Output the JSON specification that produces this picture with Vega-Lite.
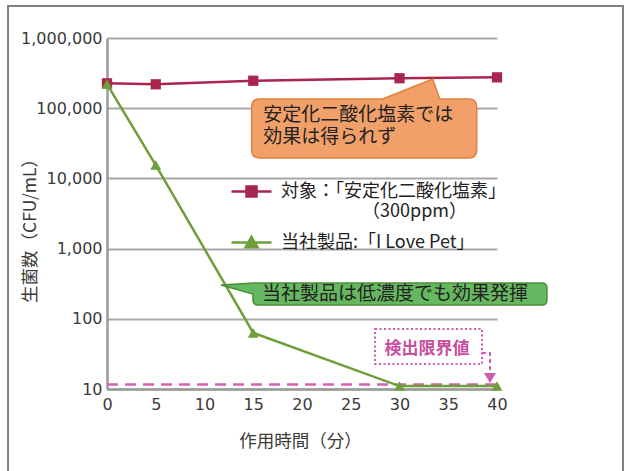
{
  "$schema": "https://vega.github.io/schema/vega-lite/v6.json",
  "width": 390,
  "height": 351,
  "autosize": {"type": "none"},
  "padding": {"left": 107, "top": 38, "right": 133, "bottom": 82},
  "background": "white",
  "config": {
    "view": {"stroke": null},
    "font": "Noto Sans CJK JP",
    "axis": {
      "labelFont": "DejaVu Sans",
      "labelFontSize": 16,
      "labelColor": "#3a3a3a",
      "labelFlush": false,
      "titleFont": "Noto Sans CJK JP",
      "titleFontSize": 17.5,
      "titleFontWeight": "normal",
      "titleColor": "#3a3a3a",
      "ticks": false,
      "domainColor": "#9a9a9a",
      "domainWidth": 2.5,
      "gridColor": "#a8a8a8",
      "gridWidth": 2
    }
  },
  "datasets": {
    "counts": [
      {"series": "対象：「安定化二酸化塩素」（300ppm）", "time": 0, "cfu": 226000},
      {"series": "対象：「安定化二酸化塩素」（300ppm）", "time": 5, "cfu": 219000},
      {"series": "対象：「安定化二酸化塩素」（300ppm）", "time": 15, "cfu": 246000},
      {"series": "対象：「安定化二酸化塩素」（300ppm）", "time": 30, "cfu": 267000},
      {"series": "対象：「安定化二酸化塩素」（300ppm）", "time": 40, "cfu": 275000},
      {"series": "当社製品:「I Love Pet」", "time": 0, "cfu": 221000},
      {"series": "当社製品:「I Love Pet」", "time": 5, "cfu": 15500},
      {"series": "当社製品:「I Love Pet」", "time": 15, "cfu": 63},
      {"series": "当社製品:「I Love Pet」", "time": 30, "cfu": 11},
      {"series": "当社製品:「I Love Pet」", "time": 40, "cfu": 11}
    ]
  },
  "layer": [
    {
      "data": {"values": [{}]},
      "mark": {"type": "rect", "filled": false, "stroke": "#808080", "strokeWidth": 2, "clip": false},
      "encoding": {
        "x": {"datum": -10.15, "type": "quantitative", "scale": {"domain": [0, 40], "nice": false}},
        "x2": {"datum": 52.92},
        "y": {"datum": 2856000, "type": "quantitative", "scale": {"type": "log", "domain": [10, 1000000], "nice": false}},
        "y2": {"datum": 0.5}
      }
    },
    {
      "data": {"values": [{}]},
      "mark": {"type": "rule", "stroke": "#D660B4", "strokeWidth": 2.5, "strokeDash": [11, 7], "clip": false},
      "encoding": {
        "x": {"datum": 0, "type": "quantitative", "scale": {"domain": [0, 40], "nice": false}},
        "x2": {"datum": 40.3},
        "y": {"datum": 11.6, "type": "quantitative", "scale": {"type": "log", "domain": [10, 1000000], "nice": false}}
      }
    },
    {
      "data": {"name": "counts"},
      "mark": {"type": "line", "strokeWidth": 2.5},
      "encoding": {
        "x": {
          "field": "time", "type": "quantitative",
          "scale": {"domain": [0, 40], "nice": false},
          "axis": {"values": [0, 5, 10, 15, 20, 25, 30, 35, 40], "grid": false, "labelPadding": 7, "title": "作用時間（分）", "titleX": 193, "titleY": 52, "titleBaseline": "middle"}
        },
        "y": {
          "field": "cfu", "type": "quantitative",
          "scale": {"type": "log", "domain": [10, 1000000], "nice": false},
          "axis": {"values": [10, 100, 1000, 10000, 100000, 1000000], "format": ",", "grid": true, "labelPadding": 5, "title": "生菌数（CFU/mL）", "titleX": -77, "titleY": 188, "titleBaseline": "middle", "titleAngle": -90}
        },
        "color": {
          "field": "series", "type": "nominal",
          "scale": {"domain": ["対象：「安定化二酸化塩素」（300ppm）", "当社製品:「I Love Pet」"], "range": ["#A9254D", "#6F9F3A"]},
          "legend": {
            "title": null,
            "orient": "none",
            "legendX": 123,
            "legendY": 132,
            "padding": 0,
            "symbolSize": 1600,
            "symbolStrokeWidth": 2.5,
            "labelFont": "Noto Sans CJK JP",
            "labelFontSize": 18,
            "labelColor": "#222222",
            "labelLimit": 400,
            "labelOffset": 8,
            "rowPadding": -20,
            "labelExpr": "datum.value === '対象：「安定化二酸化塩素」（300ppm）' ? ['対象：「安定化二酸化塩素」', '\u200b\u3000\u3000\u3000\u3000\u3000（300ppm）'] : datum.label",
            "encode": {
              "symbols": {
                "update": {
                  "shape": {"signal": "datum.value === '当社製品:「I Love Pet」' ? 'M-1,0H1M0,-0.28L0.3,0.24H-0.3Z' : 'M-1,0H1M-0.25,-0.25H0.25V0.25H-0.25Z'"},
                  "fill": {"signal": "scale('color', datum.value)"},
                  "stroke": {"signal": "scale('color', datum.value)"},
                  "strokeWidth": {"value": 2.5},
                  "opacity": {"value": 1},
                  "size": {"value": 1600}
                }
              }
            }
          }
        }
      }
    },
    {
      "data": {"name": "counts"},
      "transform": [{"filter": "datum.series === '対象：「安定化二酸化塩素」（300ppm）'"}],
      "mark": {"type": "point", "shape": "square", "filled": true, "opacity": 1, "size": 105, "color": "#A9254D"},
      "encoding": {
        "x": {"field": "time", "type": "quantitative", "scale": {"domain": [0, 40], "nice": false}},
        "y": {"field": "cfu", "type": "quantitative", "scale": {"type": "log", "domain": [10, 1000000], "nice": false}}
      }
    },
    {
      "data": {"name": "counts"},
      "transform": [{"filter": "datum.series === '当社製品:「I Love Pet」'"}],
      "mark": {"type": "point", "shape": "triangle-up", "filled": true, "opacity": 1, "size": 120, "color": "#6F9F3A"},
      "encoding": {
        "x": {"field": "time", "type": "quantitative", "scale": {"domain": [0, 40], "nice": false}},
        "y": {"field": "cfu", "type": "quantitative", "scale": {"type": "log", "domain": [10, 1000000], "nice": false}}
      }
    },
    {
      "data": {"values": [{}]},
      "mark": {"type": "point", "shape": "M8,0H131L181,-20L188,0H217Q225,0 225,8V51Q225,59 217,59H8Q0,59 0,51V8Q0,0 8,0Z", "size": 4, "filled": true, "fill": "#F2A069", "stroke": "#E0803C", "strokeWidth": 1.5, "opacity": 1, "clip": false},
      "encoding": {
        "x": {"datum": 14.84, "type": "quantitative"},
        "y": {"datum": 135200, "type": "quantitative"}
      }
    },
    {
      "data": {"values": [{}]},
      "mark": {"type": "text", "text": ["安定化二酸化塩素では", "効果は得られず"], "align": "left", "baseline": "middle", "fontSize": 19, "lineHeight": 22, "color": "#222222", "font": "Noto Sans CJK JP"},
      "encoding": {
        "x": {"datum": 16.03, "type": "quantitative"},
        "y": {"datum": 80000, "type": "quantitative"}
      }
    },
    {
      "data": {"values": [{}]},
      "mark": {"type": "point", "shape": "M-32,2L1,0H289Q294,0 294,5V17Q294,22 289,22H5Q0,22 0,17V11Z", "size": 4, "filled": true, "fill": "#66B860", "stroke": "#4D8E3A", "strokeWidth": 1.5, "opacity": 1, "clip": false},
      "encoding": {
        "x": {"datum": 14.97, "type": "quantitative"},
        "y": {"datum": 323.6, "type": "quantitative"}
      }
    },
    {
      "data": {"values": [{}]},
      "mark": {"type": "text", "text": "当社製品は低濃度でも効果発揮", "align": "left", "baseline": "middle", "fontSize": 19, "color": "#222222", "font": "Noto Sans CJK JP", "clip": false},
      "encoding": {
        "x": {"datum": 15.9, "type": "quantitative"},
        "y": {"datum": 225.6, "type": "quantitative"}
      }
    },
    {
      "data": {"values": [{}]},
      "mark": {"type": "rect", "filled": false, "stroke": "#D05AAE", "strokeWidth": 2, "strokeDash": [2, 2.5], "clip": false},
      "encoding": {
        "x": {"datum": 27.49, "type": "quantitative"},
        "x2": {"datum": 38.46},
        "y": {"datum": 71.6, "type": "quantitative"},
        "y2": {"datum": 22.7}
      }
    },
    {
      "data": {"values": [{}]},
      "mark": {"type": "point", "shape": "M0,0H8V22", "size": 4, "filled": false, "stroke": "#D05AAE", "strokeWidth": 2, "strokeDash": [4, 3], "opacity": 1, "clip": false},
      "encoding": {
        "x": {"datum": 38.46, "type": "quantitative"},
        "y": {"datum": 32.6, "type": "quantitative"}
      }
    },
    {
      "data": {"values": [{}]},
      "mark": {"type": "point", "shape": "M-6,-5H6L0,5Z", "size": 4, "filled": true, "fill": "#D05AAE", "stroke": null, "opacity": 1, "clip": false},
      "encoding": {
        "x": {"datum": 39.28, "type": "quantitative"},
        "y": {"datum": 14.35, "type": "quantitative"}
      }
    },
    {
      "data": {"values": [{}]},
      "mark": {"type": "text", "text": "検出限界値", "align": "center", "baseline": "middle", "fontSize": 17, "fontWeight": "bold", "color": "#C94FA0", "font": "Noto Sans CJK JP"},
      "encoding": {
        "x": {"datum": 32.82, "type": "quantitative"},
        "y": {"datum": 37.1, "type": "quantitative"}
      }
    }
  ]
}
